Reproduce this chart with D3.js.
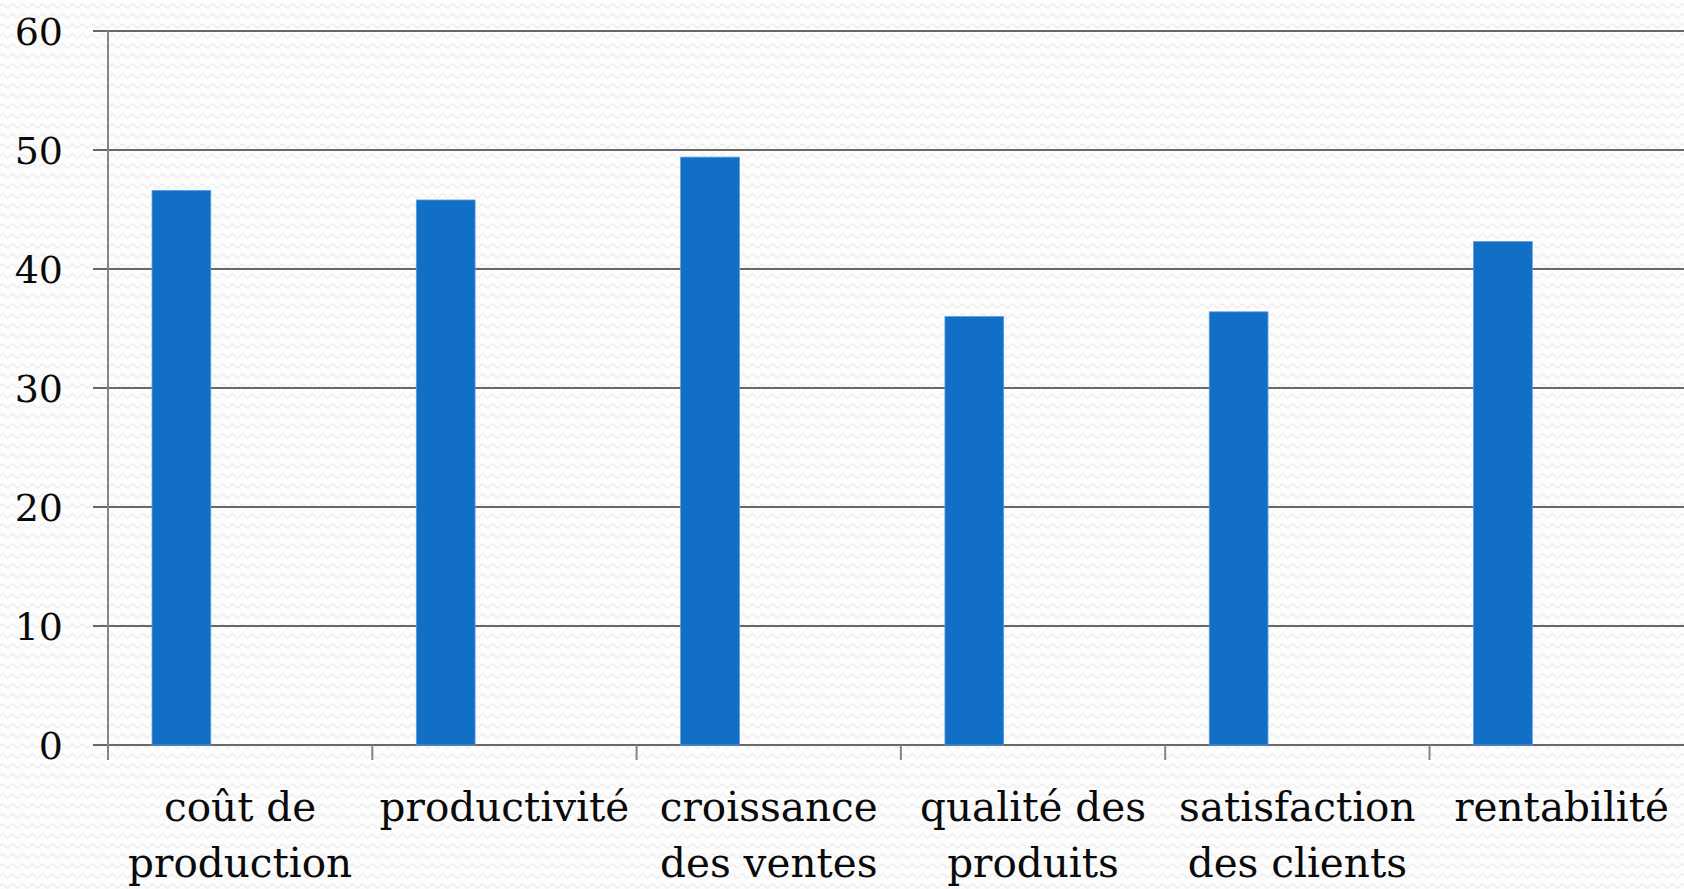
<!DOCTYPE html>
<html>
<head>
<meta charset="utf-8">
<script src="https://cdn.jsdelivr.net/npm/d3@7"></script>
<style>
  html, body { margin: 0; padding: 0; background: #fcfcfc; overflow: hidden; }
  svg { display: block; }
</style>
</head>
<body>
<svg id="chart" width="1684" height="889"></svg>
<script>
// Data
const categories = ["coût de production", "productivité", "croissance des ventes", "qualité des produits", "satisfaction des clients", "rentabilité"];
const categoryLines = [["coût de", "production"], ["productivité"], ["croissance", "des ventes"], ["qualité des", "produits"], ["satisfaction", "des clients"], ["rentabilité"]];
const values = [46.6, 45.8, 49.4, 36.0, 36.4, 42.3];
const yTicks = [0, 10, 20, 30, 40, 50, 60];

const W = 1684, H = 889;
const svg = d3.select("#chart");

// background texture
const defs = svg.append("defs");
const pat = defs.append("pattern").attr("id", "bg").attr("patternUnits", "userSpaceOnUse")
  .attr("width", 10).attr("height", 10);
pat.append("rect").attr("width", 10).attr("height", 10).attr("fill", "#fdfdfd");
pat.append("path").attr("d", "M0,6 Q2.5,2 5,6 T10,6").attr("fill", "none")
  .attr("stroke", "#efefef").attr("stroke-width", 1.6);
svg.append("rect").attr("width", W).attr("height", H).attr("fill", "url(#bg)");

const x0 = 108, bandW = 264.3;
const x = d3.scaleBand().domain(categories).range([x0, x0 + bandW * categories.length]).padding(0);
const y = d3.scaleLinear().domain([0, 60]).range([745, 31]);

// gridlines
svg.append("g").selectAll("line").data(yTicks).join("line")
  .attr("x1", x0 - 15).attr("x2", W)
  .attr("y1", d => y(d)).attr("y2", d => y(d))
  .attr("stroke", "#686868").attr("stroke-width", 2);

// y axis line
svg.append("line").attr("x1", x0).attr("x2", x0).attr("y1", y(60)).attr("y2", y(0) + 15)
  .attr("stroke", "#858585").attr("stroke-width", 2);

// x ticks
svg.append("g").selectAll("line").data(categories).join("line")
  .attr("x1", d => x(d)).attr("x2", d => x(d))
  .attr("y1", y(0)).attr("y2", y(0) + 15)
  .attr("stroke", "#858585").attr("stroke-width", 2);

// y tick labels
svg.append("g").selectAll("text").data(yTicks).join("text")
  .attr("x", 63).attr("y", d => y(d)).attr("dy", "0.36em")
  .attr("text-anchor", "end")
  .attr("font-family", "'DejaVu Serif', 'Liberation Serif', serif")
  .attr("font-size", 38).attr("fill", "#0a0a0a")
  .text(d => d);

// bars: first series of 3-slot cluster (gap 150%)
const bw = x.bandwidth() / (3 + 1.5);
svg.append("g").selectAll("rect").data(values).join("rect")
  .attr("x", (d, i) => x(categories[i]) + bw * 0.75)
  .attr("width", bw)
  .attr("y", d => y(d))
  .attr("height", d => y(0) - y(d))
  .attr("fill", "#116fc5")
  .attr("stroke", "#5a9be0").attr("stroke-width", 0.8);

// x labels
const lab = svg.append("g").selectAll("text").data(categories).join("text")
  .attr("text-anchor", "middle")
  .attr("font-family", "'DejaVu Serif', 'Liberation Serif', serif")
  .attr("font-size", 40.5).attr("fill", "#0a0a0a");
lab.each(function(d, i) {
  const t = d3.select(this);
  categoryLines[i].forEach((ln, k) => {
    t.append("tspan").attr("x", x(d) + x.bandwidth() / 2).attr("y", 821 + k * 56).text(ln);
  });
});
</script>
</body>
</html>
